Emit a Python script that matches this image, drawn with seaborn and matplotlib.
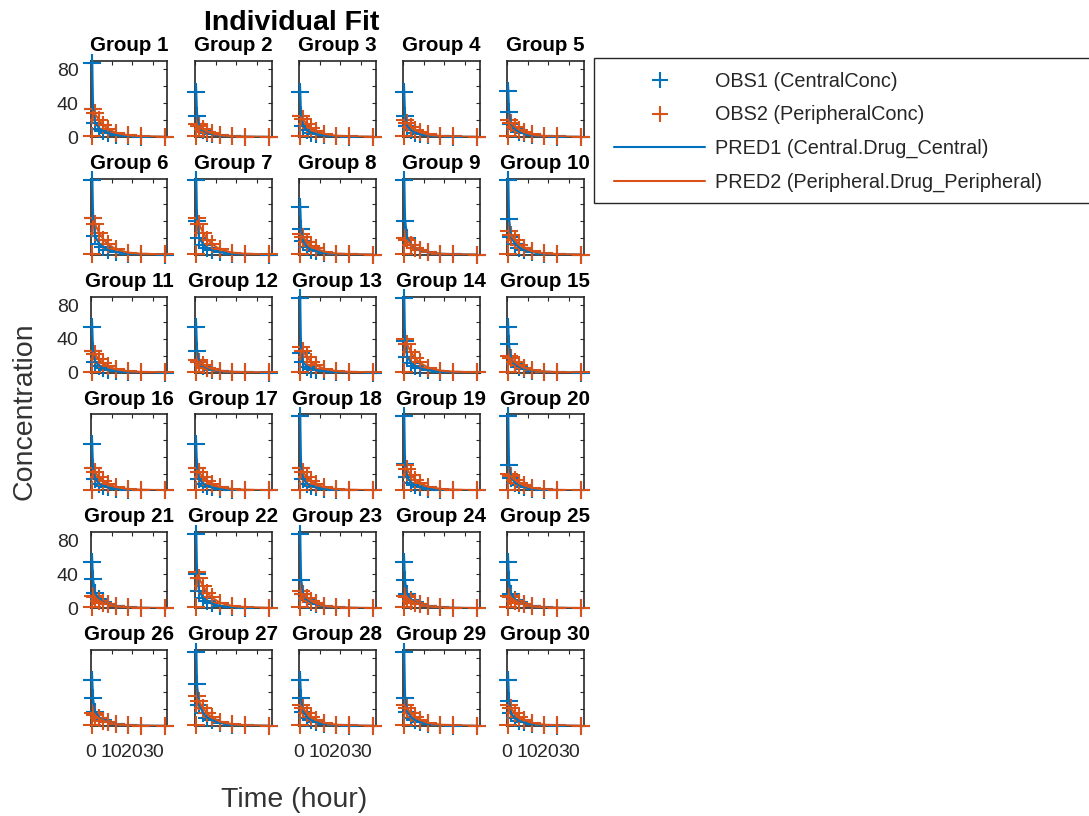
import numpy as np
import pandas as pd
import matplotlib
matplotlib.use("Agg")
import matplotlib.pyplot as plt
from matplotlib.lines import Line2D
from matplotlib.patches import Rectangle
import seaborn as sns

# ---------------- data ----------------
times = [0.5, 1, 2, 4, 6, 8, 12, 18, 24, 36]
groups = [f"Group {i}" for i in range(1, 31)]

obs1 = [
    [88, 33, 17, 10, 7, 5, 2.5, 1, 0.5, 0.1],
    [53, 25, 13, 8, 5, 3.5, 1.8, 0.8, 0.4, 0.1],
    [53, 25, 13, 8, 5, 3.5, 1.8, 0.8, 0.4, 0.1],
    [53, 25, 13, 8, 5, 3.5, 1.8, 0.8, 0.4, 0.1],
    [55, 30, 15, 9, 6, 4.2, 2.1, 0.9, 0.5, 0.1],
    [88, 44, 22, 13, 9, 6, 3, 1.3, 0.7, 0.2],
    [88, 40, 20, 12, 8, 5.6, 2.8, 1.2, 0.6, 0.2],
    [57, 31, 16, 9, 6, 4.3, 2.2, 0.9, 0.5, 0.1],
    [88, 40, 20, 12, 8, 5.6, 2.8, 1.2, 0.6, 0.2],
    [88, 42, 21, 12.5, 8.5, 6, 3, 1.3, 0.6, 0.2],
    [54, 26, 13, 8, 5, 3.6, 1.8, 0.8, 0.4, 0.1],
    [54, 26, 13, 8, 5, 3.6, 1.8, 0.8, 0.4, 0.1],
    [88, 23, 12, 7, 4.6, 3.2, 1.6, 0.7, 0.3, 0.1],
    [88, 37, 19, 11, 7.4, 5.2, 2.6, 1.1, 0.6, 0.2],
    [54, 34, 17, 10, 6.8, 4.8, 2.4, 1, 0.5, 0.1],
    [55, 26, 13, 8, 5, 3.6, 1.8, 0.8, 0.4, 0.1],
    [55, 26, 13, 8, 5, 3.6, 1.8, 0.8, 0.4, 0.1],
    [88, 26, 13, 8, 5, 3.6, 1.8, 0.8, 0.4, 0.1],
    [88, 31, 16, 9, 6, 4.3, 2.2, 0.9, 0.5, 0.1],
    [88, 30, 15, 9, 6, 4.2, 2.1, 0.9, 0.5, 0.1],
    [55, 35, 18, 10.5, 7, 4.9, 2.5, 1, 0.5, 0.1],
    [88, 40, 20, 12, 8, 5.6, 2.8, 1.2, 0.6, 0.2],
    [88, 33, 17, 10, 7, 5, 2.5, 1, 0.5, 0.1],
    [55, 33, 17, 10, 7, 5, 2.5, 1, 0.5, 0.1],
    [55, 33, 17, 10, 7, 5, 2.5, 1, 0.5, 0.1],
    [54, 33, 17, 10, 7, 5, 2.5, 1, 0.5, 0.1],
    [88, 50, 25, 15, 10, 7, 3.5, 1.5, 0.8, 0.2],
    [55, 33, 17, 10, 7, 5, 2.5, 1, 0.5, 0.1],
    [88, 33, 17, 10, 7, 5, 2.5, 1, 0.5, 0.1],
    [55, 30, 15, 9, 6, 4.2, 2.1, 0.9, 0.5, 0.1],
]

obs2 = [
    [1, 33, 28, 20, 14, 10, 5, 2, 1, 0.3],
    [1, 15, 13, 9, 6, 4.5, 2.3, 1, 0.5, 0.2],
    [1, 25, 21, 15, 10.5, 7.5, 3.8, 1.5, 0.8, 0.3],
    [1, 20, 17, 12, 8.5, 6, 3, 1.2, 0.6, 0.2],
    [1, 20, 17, 12, 8.5, 6, 3, 1.2, 0.6, 0.2],
    [1, 44, 37, 26, 18, 13, 6.5, 2.6, 1.3, 0.4],
    [1, 44, 37, 26, 18, 13, 6.5, 2.6, 1.3, 0.4],
    [1, 25, 21, 15, 10.5, 7.5, 3.8, 1.5, 0.8, 0.3],
    [1, 20, 17, 12, 8.5, 6, 3, 1.2, 0.6, 0.2],
    [1, 28, 24, 17, 12, 8.5, 4.2, 1.7, 0.8, 0.3],
    [1, 26, 22, 16, 11, 8, 4, 1.6, 0.8, 0.3],
    [1, 15, 13, 9, 6, 4.5, 2.3, 1, 0.5, 0.2],
    [1, 30, 25, 18, 12.5, 9, 4.5, 1.8, 0.9, 0.3],
    [1, 40, 34, 24, 17, 12, 6, 2.4, 1.2, 0.4],
    [1, 20, 17, 12, 8.5, 6, 3, 1.2, 0.6, 0.2],
    [1, 26, 22, 16, 11, 8, 4, 1.6, 0.8, 0.3],
    [1, 26, 22, 16, 11, 8, 4, 1.6, 0.8, 0.3],
    [1, 26, 22, 16, 11, 8, 4, 1.6, 0.8, 0.3],
    [1, 30, 25, 18, 12.5, 9, 4.5, 1.8, 0.9, 0.3],
    [1, 20, 17, 12, 8.5, 6, 3, 1.2, 0.6, 0.2],
    [1, 15, 13, 9, 6, 4.5, 2.3, 1, 0.5, 0.2],
    [1, 43, 36, 26, 18, 13, 6.5, 2.6, 1.3, 0.4],
    [1, 20, 17, 12, 8.5, 6, 3, 1.2, 0.6, 0.2],
    [1, 15, 13, 9, 6, 4.5, 2.3, 1, 0.5, 0.2],
    [1, 15, 13, 9, 6, 4.5, 2.3, 1, 0.5, 0.2],
    [1, 15, 13, 9, 6, 4.5, 2.3, 1, 0.5, 0.2],
    [1, 35, 30, 21, 15, 10.5, 5.2, 2.1, 1, 0.3],
    [1, 25, 21, 15, 10.5, 7.5, 3.8, 1.5, 0.8, 0.3],
    [1, 25, 21, 15, 10.5, 7.5, 3.8, 1.5, 0.8, 0.3],
    [1, 25, 21, 15, 10.5, 7.5, 3.8, 1.5, 0.8, 0.3],
]

pred1 = [
    [105, 35, 17, 10, 6.8, 4.8, 2.4, 1, 0.5, 0.1],
    [60, 27, 13, 7.8, 5, 3.5, 1.8, 0.8, 0.4, 0.1],
    [60, 27, 13, 7.8, 5, 3.5, 1.8, 0.8, 0.4, 0.1],
    [60, 27, 13, 7.8, 5, 3.5, 1.8, 0.8, 0.4, 0.1],
    [62, 31, 15, 9, 6, 4.2, 2.1, 0.9, 0.5, 0.1],
    [110, 46, 22, 13, 9, 6, 3, 1.3, 0.7, 0.2],
    [108, 42, 20, 12, 8, 5.6, 2.8, 1.2, 0.6, 0.2],
    [64, 32, 16, 9, 6, 4.3, 2.2, 0.9, 0.5, 0.1],
    [108, 42, 20, 12, 8, 5.6, 2.8, 1.2, 0.6, 0.2],
    [108, 43, 21, 12.5, 8.5, 6, 3, 1.3, 0.6, 0.2],
    [61, 27, 13, 8, 5, 3.6, 1.8, 0.8, 0.4, 0.1],
    [61, 27, 13, 8, 5, 3.6, 1.8, 0.8, 0.4, 0.1],
    [104, 27, 12, 7, 4.6, 3.2, 1.6, 0.7, 0.3, 0.1],
    [107, 38, 19, 11, 7.4, 5.2, 2.6, 1.1, 0.6, 0.2],
    [61, 33, 17, 10, 6.8, 4.8, 2.4, 1, 0.5, 0.1],
    [61, 27, 13, 8, 5, 3.6, 1.8, 0.8, 0.4, 0.1],
    [61, 27, 13, 8, 5, 3.6, 1.8, 0.8, 0.4, 0.1],
    [104, 29, 13, 8, 5, 3.6, 1.8, 0.8, 0.4, 0.1],
    [105, 32, 16, 9, 6, 4.3, 2.2, 0.9, 0.5, 0.1],
    [105, 31, 15, 9, 6, 4.2, 2.1, 0.9, 0.5, 0.1],
    [62, 34, 18, 10.5, 7, 4.9, 2.5, 1, 0.5, 0.1],
    [108, 42, 20, 12, 8, 5.6, 2.8, 1.2, 0.6, 0.2],
    [105, 35, 17, 10, 6.8, 4.8, 2.4, 1, 0.5, 0.1],
    [62, 32, 17, 10, 6.8, 4.8, 2.4, 1, 0.5, 0.1],
    [62, 32, 17, 10, 6.8, 4.8, 2.4, 1, 0.5, 0.1],
    [61, 32, 17, 10, 6.8, 4.8, 2.4, 1, 0.5, 0.1],
    [112, 48, 25, 15, 10, 7, 3.5, 1.5, 0.8, 0.2],
    [62, 32, 17, 10, 6.8, 4.8, 2.4, 1, 0.5, 0.1],
    [105, 35, 17, 10, 6.8, 4.8, 2.4, 1, 0.5, 0.1],
    [62, 31, 15, 9, 6, 4.2, 2.1, 0.9, 0.5, 0.1],
]

pred2 = [
    [16, 30, 27, 20, 14, 10, 5, 2, 1, 0.3],
    [8, 14, 12.5, 9, 6.3, 4.5, 2.3, 0.9, 0.5, 0.2],
    [12, 23, 20.5, 15, 10.5, 7.5, 3.8, 1.5, 0.8, 0.3],
    [10, 18, 16.4, 12, 8.4, 6, 3, 1.2, 0.6, 0.2],
    [10, 18, 16.4, 12, 8.4, 6, 3, 1.2, 0.6, 0.2],
    [22, 40, 36, 26, 18.5, 13, 6.6, 2.6, 1.3, 0.4],
    [22, 40, 36, 26, 18.5, 13, 6.6, 2.6, 1.3, 0.4],
    [12, 23, 20.5, 15, 10.5, 7.5, 3.8, 1.5, 0.8, 0.3],
    [10, 18, 16.4, 12, 8.4, 6, 3, 1.2, 0.6, 0.2],
    [14, 25, 23, 17, 12, 8.4, 4.2, 1.7, 0.8, 0.3],
    [13, 23.5, 21, 15.6, 11, 7.8, 3.9, 1.6, 0.8, 0.3],
    [8, 14, 12.5, 9, 6.3, 4.5, 2.3, 0.9, 0.5, 0.2],
    [15, 27, 24.6, 18, 12.6, 9, 4.5, 1.8, 0.9, 0.3],
    [20, 36, 33, 24, 16.8, 12, 6, 2.4, 1.2, 0.4],
    [10, 18, 16.4, 12, 8.4, 6, 3, 1.2, 0.6, 0.2],
    [13, 23.5, 21, 15.6, 11, 7.8, 3.9, 1.6, 0.8, 0.3],
    [13, 23.5, 21, 15.6, 11, 7.8, 3.9, 1.6, 0.8, 0.3],
    [13, 23.5, 21, 15.6, 11, 7.8, 3.9, 1.6, 0.8, 0.3],
    [15, 27, 24.6, 18, 12.6, 9, 4.5, 1.8, 0.9, 0.3],
    [10, 18, 16.4, 12, 8.4, 6, 3, 1.2, 0.6, 0.2],
    [8, 14, 12.5, 9, 6.3, 4.5, 2.3, 0.9, 0.5, 0.2],
    [21, 39, 35, 26, 18, 13, 6.5, 2.6, 1.3, 0.4],
    [10, 18, 16.4, 12, 8.4, 6, 3, 1.2, 0.6, 0.2],
    [8, 14, 12.5, 9, 6.3, 4.5, 2.3, 0.9, 0.5, 0.2],
    [8, 14, 12.5, 9, 6.3, 4.5, 2.3, 0.9, 0.5, 0.2],
    [8, 14, 12.5, 9, 6.3, 4.5, 2.3, 0.9, 0.5, 0.2],
    [17, 31.5, 28.7, 21, 14.7, 10.5, 5.3, 2.1, 1, 0.3],
    [12, 23, 20.5, 15, 10.5, 7.5, 3.8, 1.5, 0.8, 0.3],
    [12, 23, 20.5, 15, 10.5, 7.5, 3.8, 1.5, 0.8, 0.3],
    [12, 23, 20.5, 15, 10.5, 7.5, 3.8, 1.5, 0.8, 0.3],
]

x_ticks = [0, 10, 20, 30]
x_ticklabels = ["0", "10", "20", "30"]
y_ticks = [0, 20, 40, 60, 80]
y_ticklabels = ["0", "", "40", "", "80"]

legend_labels = ["OBS1 (CentralConc)", "OBS2 (PeripheralConc)",
                 "PRED1 (Central.Drug_Central)", "PRED2 (Peripheral.Drug_Peripheral)"]

# ---------------- styling ----------------
sns.set_style("white")
plt.rcParams["font.family"] = ["Liberation Sans", "DejaVu Sans"]

BLUE = "#0072BD"
ORANGE = "#D95319"
AX = "#262626"

W, H = 1089, 816
fig = plt.figure(figsize=(W / 100, H / 100), dpi=100)

rows = []
for g, name in enumerate(groups):
    for i, t in enumerate(times):
        rows.append(dict(group=name, time=t, obs1=obs1[g][i], obs2=obs2[g][i],
                         pred1=pred1[g][i], pred2=pred2[g][i]))
df = pd.DataFrame(rows)

ax_w, ax_h = 76.5, 76
for g, name in enumerate(groups):
    r, c = divmod(g, 5)
    left = 91 + 104 * c
    top = 61 + 117.8 * r
    ax = fig.add_axes([left / W, 1 - (top + ax_h) / H, ax_w / W, ax_h / H])
    sub = df[df["group"] == name]
    sns.scatterplot(data=sub, x="time", y="obs1", ax=ax, marker="+", s=150,
                    color=BLUE, linewidth=1.5, zorder=3, clip_on=False, legend=False)
    sns.scatterplot(data=sub, x="time", y="obs2", ax=ax, marker="+", s=150,
                    color=ORANGE, linewidth=1.5, zorder=4, clip_on=False, legend=False)
    sns.lineplot(data=sub, x="time", y="pred1", ax=ax, color=BLUE, lw=1.5,
                 estimator=None, zorder=5, legend=False)
    sns.lineplot(data=sub, x="time", y="pred2", ax=ax, color=ORANGE, lw=1.5,
                 estimator=None, zorder=6, legend=False)
    ax.set_xlim(0, 37)
    ax.set_ylim(0, 90)
    ax.set_xlabel("")
    ax.set_ylabel("")
    ax.set_xticks(x_ticks)
    ax.set_yticks(y_ticks)
    if c == 0 and r in (0, 2, 4):
        ax.set_yticklabels(y_ticklabels)
    else:
        ax.set_yticklabels([])
    if r == 5 and c in (0, 2, 4):
        ax.set_xticklabels(x_ticklabels)
    else:
        ax.set_xticklabels([])
    ax.tick_params(direction="in", length=3, width=0.8, color=AX,
                   top=True, right=True, labelsize=14, labelcolor=AX)
    ax.tick_params(axis="y", pad=9)
    ax.tick_params(axis="x", pad=13)
    for sp in ax.spines.values():
        sp.set_color(AX)
        sp.set_linewidth(1.2)
        sp.set_visible(True)
    ax.set_title(name, fontsize=14.8, fontweight="bold", pad=7, color="black")

fig.text(292 / W, 1 - 23 / H, "Individual Fit", ha="center", va="center",
         fontsize=20.5, fontweight="bold", color="black")
fig.text(25 / W, 1 - 411 / H, "Concentration", ha="center", va="center",
         rotation=90, fontsize=20.5, color="#333333")
fig.text(294 / W, 1 - 800 / H, "Time (hour)", ha="center", va="center",
         fontsize=20.5, color="#333333")

# legend frame (drawn separately so the padding matches)
fig.patches.append(Rectangle((594 / W, 1 - 203 / H), (1100 - 594) / W, (203 - 58) / H,
                             transform=fig.transFigure, facecolor="white",
                             edgecolor=AX, linewidth=1.0, zorder=1))

handles = [
    Line2D([], [], color=BLUE, marker="+", linestyle="None", markersize=12, mew=1.5),
    Line2D([], [], color=ORANGE, marker="+", linestyle="None", markersize=12, mew=1.5),
    Line2D([], [], color=BLUE, lw=1.5),
    Line2D([], [], color=ORANGE, lw=1.5),
]
leg = fig.legend(handles, legend_labels, loc="upper left",
                 bbox_to_anchor=(614 / W, 1 - 72 / H), borderaxespad=0,
                 fontsize=14.3, frameon=False, handlelength=4.6, handletextpad=0.5,
                 labelspacing=0.73, borderpad=0, numpoints=1)
leg.set_zorder(5)
for txt in leg.get_texts():
    txt.set_color(AX)

fig.savefig("out.png", dpi=100)
